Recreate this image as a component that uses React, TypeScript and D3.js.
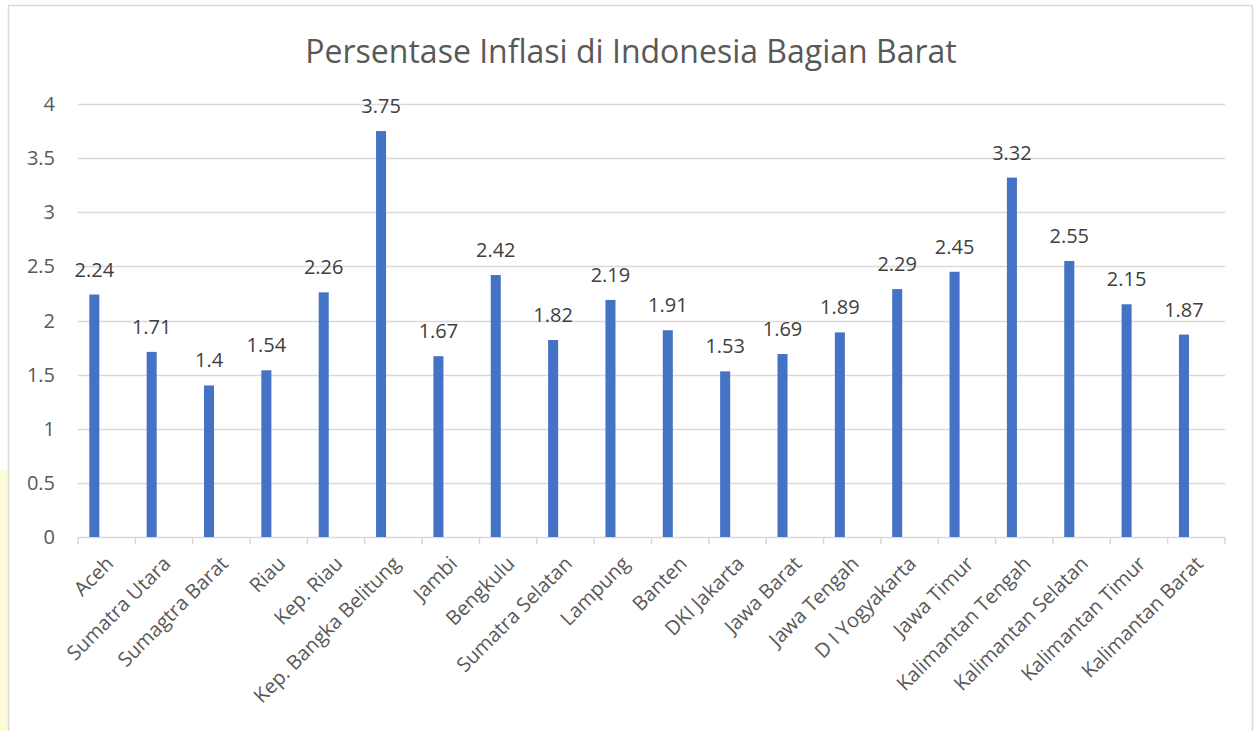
import { useRef, useEffect } from 'react';
import * as d3 from 'd3';

const categories = [
  'Aceh', 'Sumatra Utara', 'Sumagtra Barat', 'Riau', 'Kep. Riau', 'Kep. Bangka Belitung',
  'Jambi', 'Bengkulu', 'Sumatra Selatan', 'Lampung', 'Banten', 'DKI Jakarta', 'Jawa Barat',
  'Jawa Tengah', 'D I Yogyakarta', 'Jawa Timur', 'Kalimantan Tengah', 'Kalimantan Selatan',
  'Kalimantan Timur', 'Kalimantan Barat',
];
const values = [
  2.24, 1.71, 1.4, 1.54, 2.26, 3.75, 1.67, 2.42, 1.82, 2.19, 1.91, 1.53, 1.69, 1.89, 2.29,
  2.45, 3.32, 2.55, 2.15, 1.87,
];
const yTicks = [0, 0.5, 1, 1.5, 2, 2.5, 3, 3.5, 4];
const title = 'Persentase Inflasi di Indonesia Bagian Barat';

const W = 1258;
const H = 731;
const PLOT = { left: 78, right: 1225, top: 104, bottom: 537 };
const FONT = '"Open Sans", "Noto Sans", sans-serif';
const TEXT = '#595959';
const GRID = '#d9d9d9';
const BAR = '#4472c4';

export default function App() {
  const svgRef = useRef<SVGSVGElement>(null);

  useEffect(() => {
    const svg = svgRef.current;
    if (!svg) return;
    const root = d3.select(svg);
    root.selectAll('*').remove();

    const x = d3.scaleBand<string>().domain(categories).range([PLOT.left, PLOT.right]);
    const y = d3.scaleLinear().domain([0, 4]).range([PLOT.bottom, PLOT.top]);
    const bw = x.bandwidth();

    root.append('rect').attr('width', W).attr('height', H).attr('fill', '#fff');
    // faint watermark strip on the left edge
    root.append('rect').attr('x', 0).attr('y', 470).attr('width', 8).attr('height', H - 470).attr('fill', '#fdfcd8');
    // chart frame
    root.append('rect').attr('x', 8.5).attr('y', 5.5).attr('width', 1244).attr('height', H + 20)
      .attr('fill', '#fff').attr('stroke', GRID).attr('stroke-width', 1.5);

    root.append('text').attr('x', 631).attr('y', 63).attr('text-anchor', 'middle')
      .attr('fill', TEXT).attr('font-family', FONT).attr('font-size', 32).text(title);

    // grid
    yTicks.forEach(t => {
      root.append('line').attr('x1', PLOT.left).attr('x2', PLOT.right)
        .attr('y1', Math.round(y(t)) + 0.5).attr('y2', Math.round(y(t)) + 0.5)
        .attr('stroke', GRID).attr('stroke-width', 1.5);
      root.append('text').attr('x', 55).attr('y', y(t)).attr('dy', '0.35em').attr('text-anchor', 'end')
        .attr('fill', TEXT).attr('font-family', FONT).attr('font-size', 20).text(String(t));
    });

    // x axis ticks at band boundaries
    const edges = categories.map(c => x(c)!).concat([PLOT.right]);
    edges.forEach(e => {
      root.append('line').attr('x1', e).attr('x2', e).attr('y1', PLOT.bottom).attr('y2', PLOT.bottom + 7)
        .attr('stroke', GRID).attr('stroke-width', 1.5);
    });

    // bars
    const barW = bw * 0.175;
    const barOff = bw * 0.197;
    root.selectAll('rect.bar').data(values).join('rect').attr('class', 'bar')
      .attr('x', (_, i) => x(categories[i])! + barOff).attr('width', barW)
      .attr('y', d => y(d)).attr('height', d => y(0) - y(d)).attr('fill', BAR);

    // data labels
    root.selectAll('text.lbl').data(values).join('text').attr('class', 'lbl')
      .attr('x', (_, i) => x(categories[i])! + barOff + barW / 2).attr('y', d => y(d) - 18)
      .attr('text-anchor', 'middle').attr('fill', '#404040').attr('font-family', FONT).attr('font-size', 20)
      .text(d => String(d));

    // category labels
    root.selectAll('text.cat').data(categories).join('text').attr('class', 'cat')
      .attr('transform', c => `translate(${x(c)! + bw / 2 - 2},${PLOT.bottom + 18}) rotate(-45)`)
      .attr('text-anchor', 'end').attr('dy', '0.7em')
      .attr('fill', TEXT).attr('font-family', FONT).attr('font-size', 20).text(c => c);
  }, []);

  return (
    <svg ref={svgRef} width={W} height={H}
      style={{ position: 'absolute', left: 0, top: 0, display: 'block' }} />
  );
}
